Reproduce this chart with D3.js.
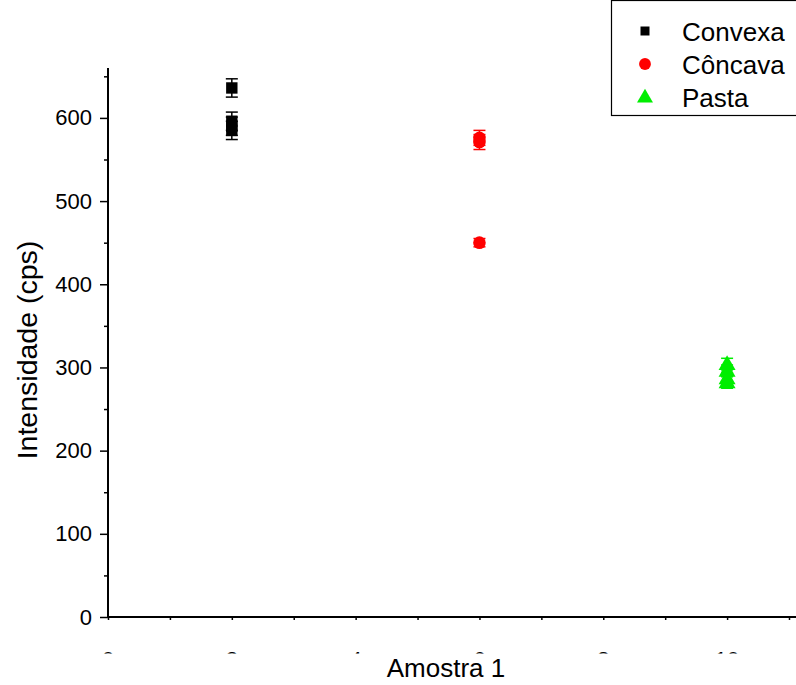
<!DOCTYPE html>
<html>
<head>
<meta charset="utf-8">
<script src="https://cdn.jsdelivr.net/npm/d3@7"></script>
<style>
  html, body { margin: 0; padding: 0; background: #fff; }
  svg { display: block; font-family: "Liberation Sans", Arial, sans-serif; }
</style>
</head>
<body>
<svg id="chart" width="796" height="685"></svg>
<script>
// Sample position on the x axis for each group
const groups = ["Convexa", "Côncava", "Pasta"];
const groupX = [2, 6, 10];
const colors = ["#000000", "#ff0000", "#00ee00"];
const shapes = ["square", "circle", "triangle"];

// Repeated measurements per group (cps) and their error half-widths
const convexaValues = [636, 596, 590, 585];
const concavaValues = [576, 571, 450];
const pastaValues = [304, 296, 287, 282];
const convexaErr = [11, 11, 11, 11];
const concavaErr = [9, 9, 5];
const pastaErr = [7, 7, 7, 7];

const xTicks = [0, 1, 2, 3, 4, 5, 6, 7, 8, 9, 10, 11];
const xTickLabels = [0, 2, 4, 6, 8, 10];
const yTicks = [0, 100, 200, 300, 400, 500, 600];
const yMinorTicks = [50, 150, 250, 350, 450, 550, 650];

const svg = d3.select("#chart");
const x = d3.scaleLinear().domain([0, 11]).range([108, 789]);
const y = d3.scaleLinear().domain([0, 660]).range([617, 68]);

// Axes
const xAxis = svg.append("g").attr("transform", `translate(0,${y(0)})`)
  .call(d3.axisBottom(x).tickValues(xTicks).tickSize(3).tickFormat(""));
xAxis.select(".domain").attr("d", `M${x(0)},0H796`).attr("stroke-width", 2);
xAxis.selectAll(".tick line").attr("stroke-width", 1.5);

// Tick labels below the x axis; only their top edge shows above the title area
const clip = svg.append("clipPath").attr("id", "xlabClip");
clip.append("rect").attr("x", 0).attr("y", 651.5).attr("width", 796).attr("height", 2);
svg.append("g").attr("clip-path", "url(#xlabClip)")
  .selectAll("text").data(xTickLabels).join("text")
  .attr("x", d => x(d)).attr("y", 667)
  .attr("text-anchor", "middle").style("font-size", "22px").text(d => d);

const yAxis = svg.append("g").attr("transform", `translate(${x(0)},0)`)
  .call(d3.axisLeft(y).tickValues(yTicks).tickSize(8).tickPadding(8));
yAxis.select(".domain").attr("d", `M0,${y(660)}V${y(0)}`).attr("stroke-width", 2);
yAxis.selectAll(".tick line").attr("stroke-width", 1.5);
yAxis.selectAll(".tick text").style("font-size", "22px").attr("fill", "#000");

svg.append("g").attr("transform", `translate(${x(0)},0)`)
  .call(d3.axisLeft(y).tickValues(yMinorTicks).tickSize(4).tickFormat(""))
  .call(g => g.select(".domain").remove())
  .selectAll(".tick line").attr("stroke-width", 1.5);

// Axis titles
svg.append("text").attr("x", 446).attr("y", 677).attr("text-anchor", "middle")
  .style("font-size", "26px").text("Amostra 1");
svg.append("text").attr("transform", "translate(37,350) rotate(-90)")
  .attr("text-anchor", "middle").style("font-size", "28.5px").text("Intensidade (cps)");

// Marker symbols
const symType = { square: d3.symbolSquare, circle: d3.symbolCircle, triangle: d3.symbolTriangle };
const symSize = { square: 130, circle: 125, triangle: 125 };

const series = [
  { values: convexaValues, errs: convexaErr },
  { values: concavaValues, errs: concavaErr },
  { values: pastaValues, errs: pastaErr }
];

series.forEach((s, i) => {
  const g = svg.append("g");
  const cx = x(groupX[i]);
  const pts = s.values.map((v, j) => ({ v, e: s.errs[j] }));
  // error bars
  pts.forEach(p => {
    const eb = g.append("g").attr("stroke", colors[i]).attr("stroke-width", 1.5);
    eb.append("line").attr("x1", cx).attr("x2", cx).attr("y1", y(p.v + p.e)).attr("y2", y(p.v - p.e));
    eb.append("line").attr("x1", cx - 6).attr("x2", cx + 6).attr("y1", y(p.v + p.e)).attr("y2", y(p.v + p.e));
    eb.append("line").attr("x1", cx - 6).attr("x2", cx + 6).attr("y1", y(p.v - p.e)).attr("y2", y(p.v - p.e));
  });
  // markers
  g.selectAll("path.m").data(pts).join("path").attr("class", "m")
    .attr("transform", p => `translate(${cx},${y(p.v) + (shapes[i] === "triangle" ? 1 : 0)})`)
    .attr("d", d3.symbol().type(symType[shapes[i]]).size(symSize[shapes[i]]))
    .attr("fill", colors[i]);
});

// Legend
const lg = svg.append("g");
lg.append("rect").attr("x", 611.5).attr("y", 0.5).attr("width", 190).attr("height", 115)
  .attr("fill", "#fff").attr("stroke", "#000").attr("stroke-width", 1.2);
groups.forEach((name, i) => {
  const ly = 31 + i * 33;
  lg.append("path").attr("transform", `translate(645,${ly + (shapes[i] === "triangle" ? 1 : 0)})`)
    .attr("d", d3.symbol().type(symType[shapes[i]]).size(shapes[i] === "square" ? 81 : 110))
    .attr("fill", colors[i]);
  lg.append("text").attr("x", 682).attr("y", ly + 9.5).style("font-size", "26px").text(name);
});
</script>
</body>
</html>
